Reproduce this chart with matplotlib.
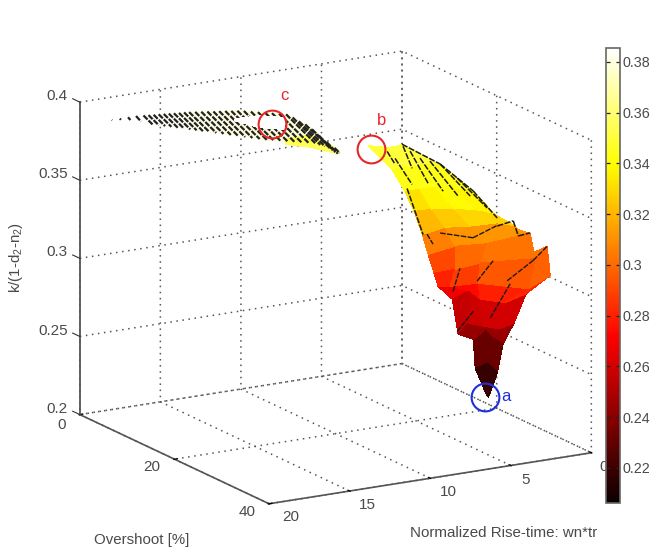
#!/usr/bin/env python
# -*- coding: utf-8 -*-

import numpy as np
import matplotlib
matplotlib.use('Agg')
import matplotlib.pyplot as plt
from mpl_toolkits.mplot3d import Axes3D

plt.rcParams['font.family'] = ['Liberation Sans', 'DejaVu Sans']
plt.rcParams['mathtext.default'] = 'regular'
plt.rcParams['grid.color'] = '#555555'
plt.rcParams['grid.linestyle'] = (0, (1, 3))
plt.rcParams['grid.linewidth'] = 1.1

rise_ticks = [0, 5, 10, 15, 20]
rise_label_pos = [0.55, 5.4, 10.2, 15.2, 20]
overshoot_ticks = [0, 20, 40]
overshoot_label_pos = [0, 18.9, 39]
k_ticks = [0.2, 0.25, 0.3, 0.35, 0.4]
k_ticklabels = ['0.2', '0.25', '0.3', '0.35', '0.4']
bar_ticks = [0.22, 0.24, 0.26, 0.28, 0.3, 0.32, 0.34, 0.36, 0.38]
bar_ticklabels = ['0.22', '0.24', '0.26', '0.28', '0.3', '0.32', '0.34', '0.36', '0.38']

# thin wing near c, one entry per constant rise-time station
wing_rise = [18.1, 17.6, 17.1, 16.6, 16.2, 15.9, 15.6, 15.3, 15.0, 14.7, 14.4, 14.1, 13.8, 13.5,
             13.2, 12.9, 12.6, 12.3, 12.0, 11.7, 11.4, 11.1, 10.8, 10.5, 10.2, 9.9, 9.6, 9.3, 9.0,
             8.7, 8.4, 8.1, 7.8, 7.5, 7.2, 6.9, 6.7]
wing_os_top = [0.3, 0.3, 0.3, 0.3, 0.5, 0.55, 0.6, 0.65, 0.7, 0.75, 0.8, 0.85, 0.9, 0.95,
               1.2, 1.45, 1.7, 1.95, 2.15, 2.4, 2.65, 2.9, 3.25, 3.7, 4.15, 4.6, 5.05, 5.5, 5.95,
               6.3, 6.6, 6.9, 7.3, 7.75, 8.3, 8.95, 9.4]
wing_os_bot = [0.35, 0.5, 0.8, 1.3, 2.35, 2.65, 2.95, 3.25, 3.55, 3.85, 4.15, 4.45, 4.75, 5.05,
               5.5, 6.0, 6.5, 7.0, 7.45, 7.95, 8.45, 8.95, 9.4, 9.8, 10.2, 10.65, 11.05, 11.5, 11.9,
               11.95, 11.9, 11.9, 11.55, 11.1, 10.6, 10.0, 9.4]
wing_k_top = [0.386, 0.386, 0.386, 0.386, 0.386, 0.3858, 0.3856, 0.3855, 0.3853, 0.3851, 0.3849, 0.3847, 0.3846, 0.3844,
              0.3844, 0.3844, 0.3844, 0.3843, 0.3843, 0.3843, 0.3842, 0.3842, 0.3841, 0.3839, 0.3837, 0.3836, 0.3834, 0.3832, 0.383,
              0.381, 0.3785, 0.3765, 0.3735, 0.3695, 0.3658, 0.3625, 0.36]
wing_k_bot = [0.3858, 0.3855, 0.385, 0.384, 0.383, 0.3824, 0.3818, 0.3813, 0.3807, 0.3801, 0.3795, 0.3789, 0.3783, 0.3778,
              0.3773, 0.3769, 0.3765, 0.3761, 0.3756, 0.3752, 0.3748, 0.3744, 0.3741, 0.374, 0.3739, 0.3737, 0.3736, 0.3735, 0.3733,
              0.3718, 0.3703, 0.3688, 0.3663, 0.3639, 0.3617, 0.3607, 0.36]

# white strip inside the wing
strip_rise = [[12.9, 11.42, 10.44], [13.1, 12.61, 11.63]]
strip_os = [[8.36, 8.6, 10.47], [9.0, 12.53, 14.4]]
strip_k = [[0.39, 0.39, 0.39], [0.39, 0.39, 0.39]]

# yellow sliver at the low end of the wing
sliver_rise = [[7.2, 5.62, 5.83], [7.69, 6.81, 6.23]]
sliver_os = [[-0.2, -0.3, 5.51], [1.43, 3.64, 6.82]]
sliver_k = [[0.355, 0.355, 0.355], [0.355, 0.355, 0.355]]

# main lobe from b down to a, rows go down the surface
lobe_rise = [[3.50, 3.13, 2.76, 2.28, 1.80],
             [4.13, 3.32, 2.65, 1.84, 1.47],
             [4.16, 3.25, 2.34, 1.59, 0.94],
             [3.23, 3.42, 3.88, 3.00, 1.81],
             [4.82, 2.28, 1.45, -0.12, -0.67],
             [1.11, 2.13, 0.51, -2.60, -0.86],
             [2.25, 2.09, 1.87, -1.13, -2.89],
             [2.27, 1.70, 1.63, 1.40, -0.93],
             [0.87, -0.77, 1.10, -0.31, -1.88],
             [2.21, 0.65, 0.24, -0.28, -1.53],
             [0.14, -0.68, -1.46, -0.90, -0.78],
             [0.91, 0.43, -0.15, 0.01, 0.37],
             [0.96, 1.01, 1.16, 0.91, 0.67]]
lobe_os = [[4.60, 5.42, 6.23, 6.30, 5.93],
           [11.60, 11.59, 11.84, 11.82, 13.06],
           [14.34, 14.41, 14.49, 16.12, 17.65],
           [13.14, 17.45, 23.69, 25.47, 25.05],
           [20.05, 16.32, 18.75, 19.09, 20.94],
           [9.00, 17.93, 18.73, 17.65, 24.02],
           [13.98, 17.80, 22.16, 23.53, 20.19],
           [14.87, 15.45, 20.95, 30.47, 27.28],
           [13.16, 11.41, 19.64, 20.10, 19.22],
           [18.79, 15.67, 17.39, 19.20, 17.92],
           [15.03, 13.74, 12.39, 16.11, 18.14],
           [17.98, 17.62, 16.93, 18.48, 20.70],
           [20.39, 20.76, 21.47, 20.86, 20.25]]
lobe_k = [[0.352, 0.352, 0.352, 0.352, 0.352],
          [0.348, 0.348, 0.348, 0.348, 0.348],
          [0.338, 0.338, 0.338, 0.338, 0.338],
          [0.322, 0.33, 0.34, 0.34, 0.335],
          [0.32, 0.315, 0.318, 0.318, 0.318],
          [0.285, 0.305, 0.305, 0.305, 0.305],
          [0.282, 0.29, 0.30, 0.30, 0.30],
          [0.275, 0.275, 0.285, 0.295, 0.295],
          [0.262, 0.262, 0.272, 0.268, 0.27],
          [0.25, 0.25, 0.25, 0.25, 0.25],
          [0.238, 0.238, 0.238, 0.238, 0.238],
          [0.225, 0.225, 0.225, 0.225, 0.225],
          [0.212, 0.212, 0.212, 0.212, 0.212]]

# black mesh fragments on the lobe
seg_rise = [[0.09, 1.85], [0.25, 2.58], [0.48, 2.66], [0.31, 2.45], [0.12, 1.88], [0.71, 2.27],
            [1.34, 2.25], [1.66, 3.44], [3.58, 2.33], [2.33, 3.58], [3.58, 2.72],
            [-0.06, 0.12], [0.12, 1.24], [1.24, 2.79], [4.07, 7.88]]
seg_os = [[0.51, 8.16], [2.49, 13.85], [5.27, 17.2], [6.74, 19.57], [8.21, 20.16], [13.63, 24.93],
          [1.37, 6.02], [4.05, 13.4], [31.31, 30.46], [30.46, 35.61], [35.61, 35.22],
          [-0.2, 8.21], [8.21, 18.66], [18.66, 28.69], [14.46, 30.32]]
seg_k = 0.34
low_seg_rise = [[-0.72, -3.94], [-3.94, -5.99], [3.76, -0.57], [2.83, 0.22], [6.61, 3.86], [0.70, -2.04],
                [-1.6, -0.89], [-2.32, -3.38], [-3.38, -5.7]]
low_seg_os = [[19.15, 13.86], [13.86, 9.96], [30.44, 20.27], [19.79, 12.6], [33.09, 27.32], [17.69, 11.91],
              [-0.16, 3.41], [0.15, 3.39], [3.39, 0.64]]
low_seg_k = 0.28

# circled points
mark_names = ['c', 'b', 'a']
mark_rise = [11.65, 3.66, 0.99]
mark_os = [11.81, 5.73, 20.3]
mark_k = [0.39, 0.352, 0.21]
mark_colors = ['#e8262a', '#e8262a', '#2030d8']
name_rise = [10.9, 2.98, -0.31]
name_k = [0.407, 0.369, 0.2085]

k_min = 0.2062
k_max = 0.3855
# overshoot values were first read with a slightly wider axis, this brings them onto the drawn one
os_fix = 1.032

txt = '#4a4a4a'


def main():
    fig = plt.figure(figsize=(6.52, 5.57), dpi=100)
    ax = fig.add_axes([48 / 652, -8 / 557, 560 / 652, 560 / 557], projection='3d',
                      computed_zorder=False)
    ax.patch.set_alpha(0)
    ax.set_proj_type('ortho')
    ax.view_init(elev=15.85, azim=59.9)
    ax.set_box_aspect((372, 377, 324.4), zoom=1.078)
    ax.set_xlim(0, 20)
    ax.set_ylim(0, 40)
    ax.set_zlim(0.2, 0.4)
    ax.set_xticks(rise_ticks)
    ax.set_yticks(overshoot_ticks)
    ax.set_zticks(k_ticks)
    ax.set_xticklabels([])
    ax.set_yticklabels([])
    ax.set_zticklabels([])
    ax.zaxis.set_ticks_position('none')
    for axis in [ax.xaxis, ax.yaxis, ax.zaxis]:
        axis.set_pane_color((1, 1, 1, 0))
        axis.pane.set_edgecolor('none')
        axis.line.set_color('#555555')
        axis.line.set_linewidth(1.2)
        axis._axinfo['tick']['inward_factor'] = 0.03
        axis._axinfo['tick']['outward_factor'] = 0.12
        axis._axinfo['tick']['color'] = '#333333'
        for tick in axis.get_major_ticks():
            tick.label1.set_visible(False)
            tick.label2.set_visible(False)

    # left edge of the box with its ticks
    ax.plot([20, 20], [0, 0], [k_ticks[0], k_ticks[-1]], color='#555555', lw=1.3, zorder=2)
    for v in k_ticks:
        ax.plot([20, 20], [0, -1.5], [v, v], color='#333333', lw=0.8, zorder=2)

    kw = dict(cmap='hot', vmin=k_min, vmax=k_max, shade=False, antialiased=False, linewidth=0)

    # wing
    wx = np.array([wing_rise, wing_rise])
    wy = np.array([wing_os_top, wing_os_bot]) * os_fix
    wz = np.array([wing_k_top, wing_k_bot])
    ax.plot_surface(wx, wy, wz, rstride=1, cstride=1, zorder=3, **kw)
    ax.plot_surface(np.array(sliver_rise), np.array(sliver_os) * os_fix, np.array(sliver_k),
                    rstride=1, cstride=1, zorder=3.5, **kw)
    ax.plot_wireframe(wx, wy, wz, rstride=0, cstride=1, color='#222222', linewidth=1.6,
                      linestyle=(0, (2.6, 0.6)), zorder=4)
    ax.plot_surface(np.array(strip_rise), np.array(strip_os) * os_fix, np.array(strip_k),
                    rstride=1, cstride=1, zorder=5, **kw)

    # lobe
    lx = np.array(lobe_rise)
    ly = np.array(lobe_os) * os_fix
    lz = np.array(lobe_k)
    surf = ax.plot_surface(lx, ly, lz, rstride=1, cstride=1, zorder=3, **kw)
    for a, b in zip(seg_rise, seg_os):
        ax.plot(a, np.array(b) * os_fix, [seg_k, seg_k], color='#1a1a1a', lw=1.1, ls=(0, (4, 1)), zorder=4)
    for a, b in zip(low_seg_rise, low_seg_os):
        ax.plot(a, np.array(b) * os_fix, [low_seg_k, low_seg_k], color='#1a1a1a', lw=1.0, ls=(0, (4, 1)), zorder=4)

    # tick labels
    for v, s in zip(k_ticks, k_ticklabels):
        ax.text(20.75, 0, v + 0.005, s, ha='right', va='center', fontsize=11, color=txt)
    for v, p in zip(overshoot_ticks, overshoot_label_pos):
        ax.text(21.1, p, 0.195, str(v), ha='center', va='center', fontsize=11, color=txt)
    for v, p in zip(rise_ticks, rise_label_pos):
        ax.text(p, 44.5, 0.198, str(v), ha='center', va='center', fontsize=11, color=txt)

    # circles and letters
    for i in range(3):
        ax.plot([mark_rise[i]], [mark_os[i] * os_fix], [mark_k[i]], marker='o', ms=20, mfc='none',
                mec=mark_colors[i], mew=1.5, zorder=6)
        ax.text(name_rise[i], mark_os[i] * os_fix, name_k[i], mark_names[i], ha='center', va='center',
                color=mark_colors[i], fontsize=12, zorder=6)

    fig.text(142 / 652, 1 - 540 / 557, 'Overshoot [%]', ha='center', va='center', fontsize=10.8, color=txt)
    fig.text(504 / 652, 1 - 533 / 557, 'Normalized Rise-time: wn*tr', ha='center', va='center', fontsize=10.9, color=txt)
    fig.text(16 / 652, 1 - 257 / 557, 'k/(1-d$_2$-n$_2$)', rotation=90, ha='center', va='center', fontsize=10.9, color=txt)

    # colorbar
    cax = fig.add_axes([606 / 652, 1 - 503 / 557, 14 / 652, 455 / 557])
    cb = fig.colorbar(surf, cax=cax, ticks=bar_ticks)
    cb.ax.set_yticklabels(bar_ticklabels, fontsize=10.3, color=txt)
    cb.ax.tick_params(direction='in', length=3, width=0.9, color='#222222', pad=1.5, left=True, right=True)
    cb.outline.set_edgecolor('#666666')
    cb.outline.set_linewidth(1.2)

    fig.savefig('out.png', dpi=100)


if __name__ == '__main__':
    main()
